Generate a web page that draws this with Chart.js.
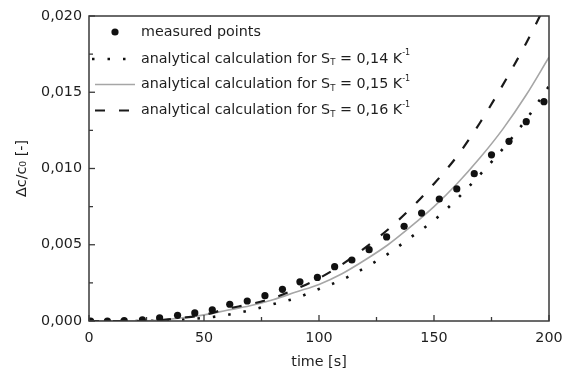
<!DOCTYPE html>
<html>
<head>
<meta charset="utf-8">
<script src="https://cdn.jsdelivr.net/npm/chart.js@4/dist/chart.umd.min.js"></script>
<style>
  html, body { margin: 0; padding: 0; background: #ffffff; }
  #wrap { width: 564px; height: 372px; position: relative; }
</style>
</head>
<body>
<div id="wrap"><canvas id="c" width="564" height="372"></canvas></div>
<script>
// ---- data ----
const measuredTime = [0.7, 8, 15.3, 23.2, 30.7, 38.5, 46, 53.6, 61.2, 68.8, 76.5, 84.1, 91.7, 99.3, 106.8, 114.3, 121.8, 129.4, 137, 144.6, 152.3, 159.9, 167.5, 175, 182.6, 190.1, 197.8];
const measuredValue = [0, 0, 0.00002, 0.00007, 0.0002, 0.00037, 0.00053, 0.00073, 0.0011, 0.00131, 0.00166, 0.00208, 0.00257, 0.00286, 0.00356, 0.0040, 0.00468, 0.00551, 0.00621, 0.00708, 0.0080, 0.00866, 0.00966, 0.0109, 0.01178, 0.01307, 0.01438];

const curveTime = [0, 10, 20, 30, 40, 50, 60, 70, 80, 90, 100, 110, 120, 130, 140, 150, 160, 170, 180, 190, 200];
const calcST014 = [0, 0, 0, 0.00003, 0.0001, 0.0002, 0.0004, 0.0007, 0.0011, 0.0015, 0.0021, 0.0027, 0.0035, 0.0044, 0.0055, 0.0066, 0.0080, 0.0096, 0.0113, 0.0132, 0.0154];
const calcST015 = [0, 0, 0, 0.00005, 0.0002, 0.0004, 0.0007, 0.0010, 0.0014, 0.0019, 0.0024, 0.0031, 0.0040, 0.0050, 0.0062, 0.0075, 0.0090, 0.0107, 0.0126, 0.0148, 0.0173];
const calcST016 = [0, 0, 0, 0.00005, 0.0002, 0.0004, 0.0008, 0.0011, 0.0015, 0.0021, 0.0028, 0.0037, 0.0048, 0.0060, 0.0074, 0.0090, 0.0108, 0.0130, 0.0155, 0.0182, 0.0212];

const seriesLabels = ['measured points', 'analytical calculation for S', 'analytical calculation for S', 'analytical calculation for S'];
const seriesST = ['', '0,14', '0,15', '0,16'];

const xLabel = 'time [s]';
const yLabel = 'Δc/c₀ [-]';

const FONT = '"DejaVu Sans", "Liberation Sans", Arial, sans-serif';
const TEXT = '#1e1e1e';
const FRAME = '#3a3a3a';

function pts(xs, ys) { return xs.map((x, i) => ({ x: x, y: ys[i] })); }

const styles = [
  { color: '#111111', width: 0, dash: [] },
  { color: '#111111', width: 2.6, dash: [2.5, 13] },
  { color: '#a6a6a6', width: 1.6, dash: [] },
  { color: '#1a1a1a', width: 2.2, dash: [10, 14] }
];

// inward ticks + frame
const framePlugin = {
  id: 'frame',
  afterDraw(chart) {
    const { ctx, chartArea: a, scales } = chart;
    ctx.save();
    ctx.strokeStyle = FRAME;
    ctx.lineWidth = 1.5;
    ctx.strokeRect(a.left, a.top, a.right - a.left, a.bottom - a.top);
    ctx.lineWidth = 1.3;
    const xs = scales.x, ys = scales.y;
    const xt = xs.ticks.map(t => t.value);
    for (let i = 0; i < xt.length; i++) {
      const px = xs.getPixelForValue(xt[i]);
      ctx.beginPath(); ctx.moveTo(px, a.bottom); ctx.lineTo(px, a.bottom - 6); ctx.stroke();
      if (i < xt.length - 1) {
        const pm = xs.getPixelForValue((xt[i] + xt[i + 1]) / 2);
        ctx.beginPath(); ctx.moveTo(pm, a.bottom); ctx.lineTo(pm, a.bottom - 4); ctx.stroke();
      }
    }
    const yt = ys.ticks.map(t => t.value);
    for (let i = 0; i < yt.length; i++) {
      const py = ys.getPixelForValue(yt[i]);
      ctx.beginPath(); ctx.moveTo(a.left, py); ctx.lineTo(a.left + 6, py); ctx.stroke();
      if (i < yt.length - 1) {
        const pm = ys.getPixelForValue((yt[i] + yt[i + 1]) / 2);
        ctx.beginPath(); ctx.moveTo(a.left, pm); ctx.lineTo(a.left + 4, pm); ctx.stroke();
      }
    }
    ctx.restore();
  }
};

function drawRich(ctx, parts, x, y) {
  let cx = x;
  for (const p of parts) {
    ctx.font = p.size + 'px ' + FONT;
    ctx.fillText(p.t, cx, y + (p.dy || 0));
    cx += ctx.measureText(p.t).width;
  }
  return cx;
}

const legendPlugin = {
  id: 'customLegend',
  afterDraw(chart) {
    const { ctx, chartArea: a } = chart;
    ctx.save();
    const rowY = [a.top + 16, a.top + 43, a.top + 68.5, a.top + 94.5];
    const textX = a.left + 52;
    ctx.fillStyle = TEXT;
    ctx.textBaseline = 'middle';
    ctx.textAlign = 'left';
    for (let i = 0; i < 4; i++) {
      const y = rowY[i];
      const s = styles[i];
      if (i === 0) {
        ctx.beginPath();
        ctx.fillStyle = s.color;
        ctx.arc(a.left + 26, y, 3.6, 0, Math.PI * 2);
        ctx.fill();
      } else {
        ctx.strokeStyle = s.color;
        ctx.lineWidth = s.width;
        ctx.setLineDash(s.dash);
        ctx.beginPath();
        if (i === 1) { ctx.moveTo(a.left + 3, y); ctx.lineTo(a.left + 38, y); }
        if (i === 2) { ctx.moveTo(a.left + 6, y); ctx.lineTo(a.left + 46, y); }
        if (i === 3) { ctx.moveTo(a.left + 6, y); ctx.lineTo(a.left + 40, y); }
        ctx.stroke();
        ctx.setLineDash([]);
      }
      ctx.fillStyle = TEXT;
      if (i === 0) {
        drawRich(ctx, [{ t: seriesLabels[0], size: 14.3 }], textX, y);
      } else {
        drawRich(ctx, [
          { t: seriesLabels[i], size: 14.3 },
          { t: 'T', size: 8.5, dy: 4 },
          { t: ' = ' + seriesST[i] + ' K', size: 14.3 },
          { t: '-1', size: 8, dy: -6 }
        ], textX, y);
      }
    }
    ctx.restore();
  }
};

new Chart(document.getElementById('c'), {
  type: 'scatter',
  data: {
    datasets: [
      {
        label: 'measured points',
        data: pts(measuredTime, measuredValue),
        showLine: false,
        pointRadius: 3.6,
        pointBackgroundColor: styles[0].color,
        pointBorderWidth: 0,
        order: 0
      },
      {
        label: 'S_T = 0,14',
        data: pts(curveTime, calcST014),
        showLine: true,
        pointRadius: 0,
        borderColor: styles[1].color,
        borderWidth: styles[1].width,
        borderDash: styles[1].dash,
        cubicInterpolationMode: 'monotone',
        order: 3
      },
      {
        label: 'S_T = 0,15',
        data: pts(curveTime, calcST015),
        showLine: true,
        pointRadius: 0,
        borderColor: styles[2].color,
        borderWidth: styles[2].width,
        cubicInterpolationMode: 'monotone',
        order: 2
      },
      {
        label: 'S_T = 0,16',
        data: pts(curveTime, calcST016),
        showLine: true,
        pointRadius: 0,
        borderColor: styles[3].color,
        borderWidth: styles[3].width,
        borderDash: styles[3].dash,
        cubicInterpolationMode: 'monotone',
        order: 1
      }
    ]
  },
  options: {
    responsive: false,
    animation: false,
    events: [],
    layout: { padding: { left: 0, right: 15, top: 16, bottom: 0 } },
    plugins: { legend: { display: false }, tooltip: { enabled: false } },
    scales: {
      x: {
        type: 'linear', min: 0, max: 200,
        grid: { display: false, drawTicks: false },
        border: { display: false },
        ticks: { stepSize: 50, padding: 9, color: TEXT, font: { family: FONT, size: 14.3 } },
        title: { display: true, text: xLabel, color: TEXT, font: { family: FONT, size: 14.3 }, padding: { top: 0, bottom: 1.5 } },
        afterFit(scale) { scale.height = 51; scale.paddingRight = 0; scale.paddingLeft = 0; }
      },
      y: {
        type: 'linear', min: 0, max: 0.02,
        grid: { display: false, drawTicks: false },
        border: { display: false },
        ticks: {
          stepSize: 0.005, padding: 7, color: TEXT, font: { family: FONT, size: 14.3 },
          callback: v => v.toFixed(3).replace('.', ',')
        },
        title: { display: true, text: yLabel, color: TEXT, font: { family: FONT, size: 14.3 }, padding: { top: 13.5, bottom: 0 } },
        afterFit(scale) { scale.width = 89; scale.paddingTop = 0; scale.paddingBottom = 0; }
      }
    }
  },
  plugins: [framePlugin, legendPlugin]
});
</script>
</body>
</html>
